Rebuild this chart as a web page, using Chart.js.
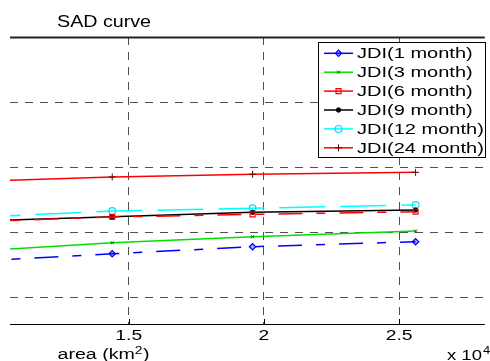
<!DOCTYPE html>
<html>
<head>
<meta charset="utf-8">
<title>SAD curve</title>
<script src="https://cdn.jsdelivr.net/npm/chart.js@4.4.1/dist/chart.umd.min.js"></script>
<style>
  html, body { margin: 0; padding: 0; background: #fff; }
  #sadChart { display: block; }
</style>
</head>
<body>
<canvas id="sadChart" width="490" height="361"></canvas>
<script>
// area in units of 10^4 km2 (first point lies left of the visible window)
const areaX = [0.9, 1.439, 1.958, 2.561];
const xTicks = [1.5, 2, 2.5];
const xTickLabels = ['1.5', '2', '2.5'];
const yGrid = [1, 2, 3, 4, 5];

// JDI severity per duration (y labels are cropped in the source figure)
const jdi1 = [1.543, 1.666, 1.774, 1.851];
const jdi3 = [1.697, 1.835, 1.928, 2.015];
const jdi6 = [2.154, 2.231, 2.272, 2.312];
const jdi9 = [2.164, 2.235, 2.303, 2.338];
const jdi12 = [2.220, 2.323, 2.365, 2.415];
const jdi24 = [2.773, 2.846, 2.888, 2.918];

const seriesNames = ['JDI(1 month)', 'JDI(3 month)', 'JDI(6 month)', 'JDI(9 month)', 'JDI(12 month)', 'JDI(24 month)'];

const FONT = '"Liberation Sans", Arial, Helvetica, sans-serif';

function toPoints(values) {
    return values.map((v, i) => ({ x: areaX[i], y: v }));
}

// text in the source figure is wider than a normal sans, so stretch it a bit
function wideText(ctx, text, x, y, size, sx, align) {
    ctx.save();
    ctx.font = size + 'px ' + FONT;
    ctx.fillStyle = '#000';
    ctx.textBaseline = 'alphabetic';
    ctx.translate(x, y);
    ctx.scale(sx, 1);
    ctx.textAlign = align || 'left';
    ctx.fillText(text, 0, 0);
    const w = ctx.measureText(text).width * sx;
    ctx.restore();
    return w;
}

function drawMarker(ctx, ds, x, y) {
    ctx.save();
    ctx.strokeStyle = ds.pointBorderColor || ds.borderColor;
    ctx.fillStyle = ds.pointBackgroundColor || 'rgba(0,0,0,0)';
    ctx.lineWidth = ds.pointBorderWidth || 1;
    if (Chart.helpers && Chart.helpers.drawPoint) {
        Chart.helpers.drawPoint(ctx, {
            pointStyle: ds.pointStyle,
            radius: ds.pointRadius,
            borderWidth: ds.pointBorderWidth || 1,
            rotation: 0
        }, x, y);
    } else {
        ctx.beginPath();
        ctx.arc(x, y, ds.pointRadius, 0, Math.PI * 2);
        ctx.fill();
        ctx.stroke();
    }
    ctx.restore();
}

const matlabFrame = {
    id: 'matlabFrame',
    afterDraw(chart) {
        const ctx = chart.ctx;
        const area = chart.chartArea;
        const xs = chart.scales.x;

        ctx.save();
        // top edge of the axes box
        ctx.strokeStyle = '#222';
        ctx.lineWidth = 2;
        ctx.beginPath();
        ctx.moveTo(area.left, area.top + 0.5);
        ctx.lineTo(area.right, area.top + 0.5);
        ctx.stroke();

        // bottom axis and inward tick marks
        ctx.strokeStyle = '#000';
        ctx.lineWidth = 1;
        ctx.beginPath();
        ctx.moveTo(area.left, area.bottom + 0.5);
        ctx.lineTo(area.right, area.bottom + 0.5);
        xTicks.forEach(v => {
            const px = Math.round(xs.getPixelForValue(v)) + 0.5;
            ctx.moveTo(px, area.bottom);
            ctx.lineTo(px, area.bottom - 5);
        });
        ctx.stroke();
        ctx.restore();

        // tick labels
        xTicks.forEach((v, i) => {
            wideText(ctx, xTickLabels[i], xs.getPixelForValue(v), area.bottom + 16, 14, 1.38, 'center');
        });

        // title and axis labels
        wideText(ctx, 'SAD curve', 57, 27, 16, 1.23);
        let w = wideText(ctx, 'area (km', 57.5, 359, 14, 1.4);
        w += wideText(ctx, '2', 57.5 + w, 354, 10, 1.4);
        wideText(ctx, ')', 57.5 + w + 0.5, 359, 14, 1.4);
        const w2 = wideText(ctx, 'x 10', 447, 360, 14, 1.32);
        wideText(ctx, '4', 447 + w2 + 1, 354, 10, 1.3);

        // legend box
        const lx = 318, ly = 42, lw = 167, lh = 115;
        ctx.save();
        ctx.fillStyle = '#fff';
        ctx.fillRect(lx, ly, lw, lh);
        ctx.strokeStyle = '#000';
        ctx.lineWidth = 1;
        ctx.strokeRect(lx + 0.5, ly + 0.5, lw, lh);
        ctx.restore();

        chart.data.datasets.forEach((ds, i) => {
            const yy = 53.3 + i * 18.9;
            ctx.save();
            ctx.strokeStyle = ds.borderColor;
            ctx.lineWidth = 1.5;
            ctx.beginPath();
            ctx.moveTo(324, yy);
            ctx.lineTo(353, yy);
            ctx.stroke();
            ctx.restore();
            drawMarker(ctx, ds, 338.5, yy);
            wideText(ctx, ds.label, 357, yy + 5, 14, 1.43);
        });
    }
};

const ctx = document.getElementById('sadChart');
new Chart(ctx, {
    type: 'line',
    data: {
        datasets: [{
            label: seriesNames[0],
            data: toPoints(jdi1),
            borderColor: '#0000ff',
            borderWidth: 1.5,
            borderDash: [24, 14, 9, 14],
            borderDashOffset: 54,
            pointStyle: 'rectRot',
            pointRadius: 3.2,
            pointBorderWidth: 1.2,
            pointBorderColor: '#0000ff',
            pointBackgroundColor: 'rgba(0,0,255,0.35)'
        }, {
            label: seriesNames[1],
            data: toPoints(jdi3),
            borderColor: '#00e000',
            borderWidth: 1.5,
            pointStyle: 'crossRot',
            pointRadius: 2.2,
            pointBorderWidth: 1,
            pointBorderColor: '#006000',
            pointBackgroundColor: '#00e000'
        }, {
            label: seriesNames[2],
            data: toPoints(jdi6),
            borderColor: '#ff0000',
            borderWidth: 1.5,
            borderDash: [24, 14, 9, 14],
            borderDashOffset: 54,
            pointStyle: 'rect',
            pointRadius: 3.5,
            pointBorderWidth: 1.2,
            pointBorderColor: '#ff0000',
            pointBackgroundColor: 'rgba(255,255,255,0)'
        }, {
            label: seriesNames[3],
            data: toPoints(jdi9),
            borderColor: '#000000',
            borderWidth: 1.5,
            pointStyle: 'circle',
            pointRadius: 2.2,
            pointBorderWidth: 1,
            pointBorderColor: '#000000',
            pointBackgroundColor: '#000000'
        }, {
            label: seriesNames[4],
            data: toPoints(jdi12),
            borderColor: '#00ffff',
            borderWidth: 1.5,
            borderDash: [46, 15],
            borderDashOffset: 53,
            pointStyle: 'circle',
            pointRadius: 3.4,
            pointBorderWidth: 1.2,
            pointBorderColor: '#00e0ff',
            pointBackgroundColor: 'rgba(255,255,255,0)'
        }, {
            label: seriesNames[5],
            data: toPoints(jdi24),
            borderColor: '#ff0000',
            borderWidth: 1.5,
            pointStyle: 'cross',
            pointRadius: 3.5,
            pointBorderWidth: 1,
            pointBorderColor: '#600000',
            pointBackgroundColor: '#ff0000'
        }]
    },
    options: {
        responsive: false,
        animation: false,
        devicePixelRatio: 1,
        layout: { padding: { left: 10, top: 37, right: 0, bottom: 37 } },
        plugins: {
            legend: { display: false },
            title: { display: false },
            tooltip: { enabled: false }
        },
        elements: { line: { tension: 0 } },
        scales: {
            x: {
                type: 'linear',
                min: 1.0609,
                max: 2.817,
                afterBuildTicks: scale => { scale.ticks = xTicks.map(v => ({ value: v })); },
                ticks: { display: false },
                grid: { color: '#505050', lineWidth: 1, drawTicks: false },
                border: { display: false, dash: [8, 7] }
            },
            y: {
                type: 'linear',
                min: 0.585,
                max: 5,
                afterBuildTicks: scale => { scale.ticks = yGrid.map(v => ({ value: v })); },
                ticks: { display: false },
                grid: { color: '#505050', lineWidth: 1, drawTicks: false },
                border: { display: false, dash: [8, 7] }
            }
        }
    },
    plugins: [matlabFrame]
});
</script>
</body>
</html>
